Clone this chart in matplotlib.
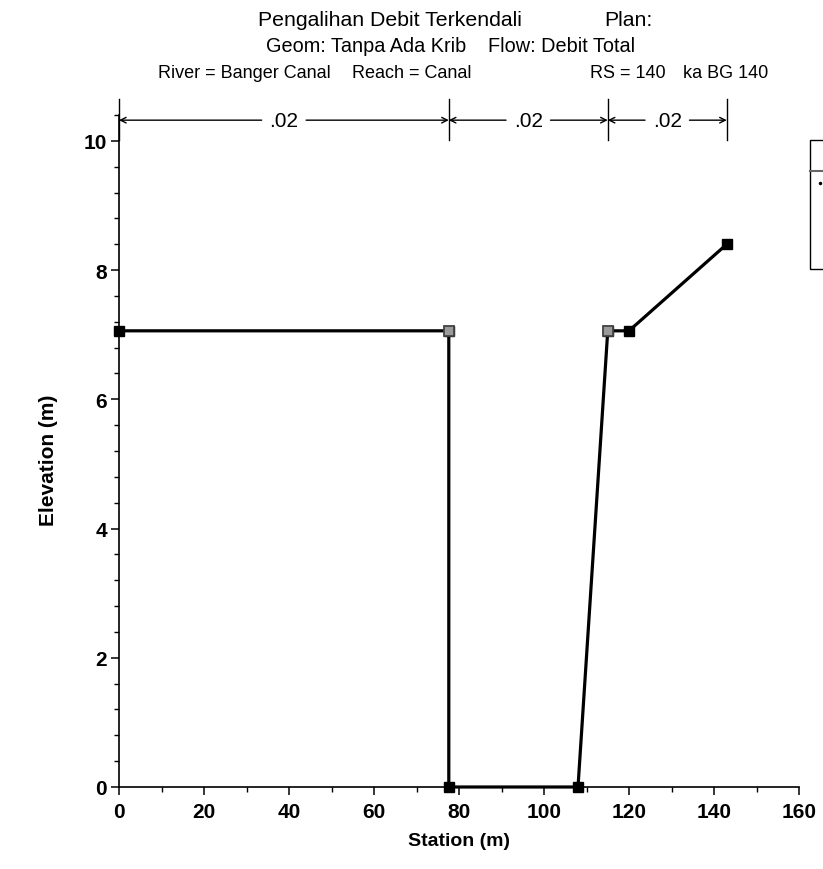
import matplotlib
matplotlib.use("Agg")
import matplotlib.pyplot as plt
from matplotlib.patches import Rectangle
from matplotlib.lines import Line2D
from matplotlib.ticker import MultipleLocator

plt.rcParams['font.family'] = ['Liberation Sans', 'DejaVu Sans']

# Ground profile of the cross section
station = [0, 77.6, 77.6, 108, 115, 120, 143]
elevation = [7.06, 7.06, 0, 0, 7.06, 7.06, 8.4]
# Bank stations
bank_station = [77.6, 115]
bank_elev = [7.06, 7.06]

# Manning's n segments
n_edges = [0, 77.6, 115, 143]
n_values = ['.02', '.02', '.02']

title_main = ["Pengalihan Debit Terkendali", "Plan:"]
title_geom = ["Geom: Tanpa Ada Krib", "Flow: Debit Total"]
title_loc = ["River = Banger Canal", "Reach = Canal", "RS = 140", "ka BG 140"]

W, H = 823, 870
fig = plt.figure(figsize=(W / 100, H / 100), dpi=100)
ax = fig.add_axes([119 / W, 1 - 788 / H, (799 - 119) / W, (788 - 116) / H])

ax.plot(station, elevation, color='black', lw=2.3, marker='s', ms=7,
        mfc='black', mec='black', zorder=3, clip_on=False)
ax.plot(bank_station, bank_elev, ls='none', marker='s', ms=7,
        mfc='#9a9a9a', mec='#444444', mew=1.3, zorder=4, clip_on=False)

ax.set_xlim(0, 160)
ax.set_ylim(0, 10.4)
ax.spines['top'].set_visible(False)
ax.spines['right'].set_visible(False)
for s in ('left', 'bottom'):
    ax.spines[s].set_linewidth(1.2)

ax.xaxis.set_major_locator(MultipleLocator(20))
ax.xaxis.set_minor_locator(MultipleLocator(10))
ax.yaxis.set_major_locator(MultipleLocator(2))
ax.yaxis.set_minor_locator(MultipleLocator(0.4))
ax.tick_params(which='major', direction='out', length=5.5, width=1.1,
               labelsize=15)
ax.tick_params(which='minor', direction='out', length=3.5, width=1.0)
ax.tick_params(axis='x', which='major', pad=5)
ax.tick_params(axis='y', which='major', pad=3)
for lab in ax.get_xticklabels() + ax.get_yticklabels():
    lab.set_fontweight('bold')

# Axis titles
fig.text(459 / W, 1 - 842 / H, 'Station (m)', ha='center', va='center',
         fontsize=14, fontweight='bold')
fig.text(48 / W, 1 - 460 / H, 'Elevation (m)', ha='center', va='center',
         rotation=90, fontsize=15, fontweight='bold')

# Manning's n arrows above the profile
y_arrow = 10.32
for x in n_edges:
    ax.plot([x, x], [10.02, 10.65], color='black', lw=1.0, clip_on=False)
for (x0, x1), label in zip(zip(n_edges[:-1], n_edges[1:]), n_values):
    xm = 0.5 * (x0 + x1)
    for xe in (x0, x1):
        ax.annotate('', xy=(xe, y_arrow), xytext=(xm, y_arrow),
                    arrowprops=dict(arrowstyle='->', color='black', lw=1.0,
                                    shrinkA=16, shrinkB=0),
                    annotation_clip=False)
    ax.text(xm, y_arrow, label, ha='center', va='center', fontsize=15,
            bbox=dict(fc='white', ec='none', pad=1.0), zorder=5,
            clip_on=False)

# Title block
fig.text(258 / W, 1 - 20 / H, title_main[0], ha='left', va='center',
         fontsize=15.3)
fig.text(604 / W, 1 - 20 / H, title_main[1], ha='left', va='center',
         fontsize=15.3)
for xs, txt in zip([266, 488], title_geom):
    fig.text(xs / W, 1 - 47 / H, txt, ha='left', va='center', fontsize=14.3)
for xs, txt in zip([158, 352, 590, 683], title_loc):
    fig.text(xs / W, 1 - 74 / H, txt, ha='left', va='center', fontsize=13)

# Legend frame at the right edge
fig.patches.append(Rectangle((810 / W, 1 - 270 / H), 40 / W, (270 - 141) / H,
                             transform=fig.transFigure, fill=False,
                             ec='black', lw=1.0))
fig.lines.append(Line2D([810 / W, 1.0], [1 - 172 / H, 1 - 172 / H],
                        transform=fig.transFigure, color='#666666', lw=1.5))
fig.lines.append(Line2D([820 / W], [1 - 184 / H], transform=fig.transFigure,
                        marker='.', color='black', ms=3, ls='none'))

fig.savefig('out.png', dpi=100)
